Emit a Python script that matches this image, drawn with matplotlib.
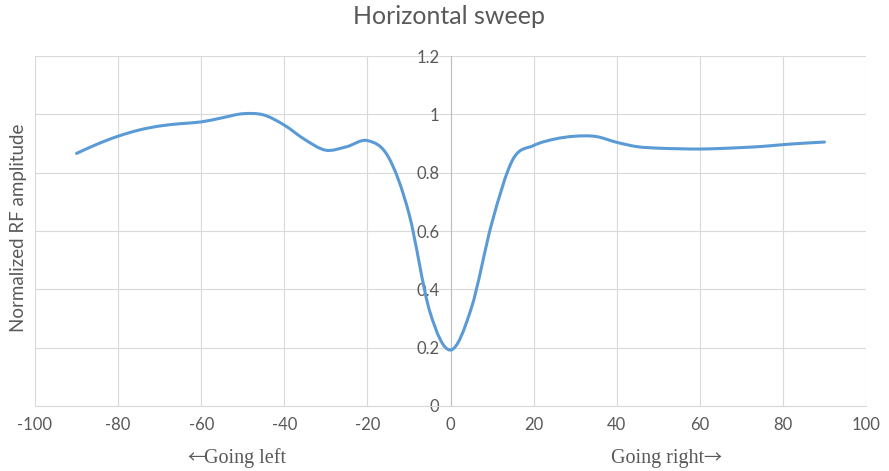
import matplotlib
matplotlib.use('Agg')
import matplotlib.pyplot as plt
from matplotlib.path import Path
from matplotlib.patches import PathPatch
from matplotlib.ticker import FuncFormatter

plt.rcParams['axes.unicode_minus'] = False

# angle (deg) and normalized RF amplitude
angles = [-90, -85, -80, -75, -70, -65, -60, -55, -50, -45, -40, -35, -30,
          -25, -20, -15, -10, -5, 0, 5, 10, 15, 20, 25, 30, 35, 40, 45,
          50, 55, 60, 65, 70, 75, 80, 85, 90]
amplitude = [0.866, 0.898, 0.925, 0.946, 0.960, 0.968, 0.974, 0.988, 1.002,
             0.998, 0.963, 0.913, 0.877, 0.889, 0.910, 0.855, 0.660, 0.325,
             0.192, 0.335, 0.630, 0.845, 0.893, 0.915, 0.925, 0.924, 0.904,
             0.889, 0.884, 0.882, 0.881, 0.883, 0.886, 0.890, 0.896, 0.901,
             0.905]
x_ticks = [-100, -80, -60, -40, -20, 0, 20, 40, 60, 80, 100]
y_ticks = [0, 0.2, 0.4, 0.6, 0.8, 1.0, 1.2]

LINE = '#5B9BD5'
GRID = '#D9D9D9'
TEXT = '#595959'


def smooth_path(xs, ys):
    """Excel-style smoothed line: cubic bezier through every point"""
    n = len(xs)
    verts = [(xs[0], ys[0])]
    codes = [Path.MOVETO]
    for i in range(n - 1):
        i0 = max(i - 1, 0)
        i3 = min(i + 2, n - 1)
        c1 = (xs[i] + (xs[i + 1] - xs[i0]) / 6, ys[i] + (ys[i + 1] - ys[i0]) / 6)
        c2 = (xs[i + 1] - (xs[i3] - xs[i]) / 6, ys[i + 1] - (ys[i3] - ys[i]) / 6)
        verts += [c1, c2, (xs[i + 1], ys[i + 1])]
        codes += [Path.CURVE4] * 3
    return Path(verts, codes)


fig = plt.figure(figsize=(8.89, 4.71), dpi=100)
ax = fig.add_axes([35 / 889, 1 - 406 / 471, 831 / 889, 350 / 471])

ax.add_patch(PathPatch(smooth_path(angles, amplitude), fill=False,
                       edgecolor=LINE, linewidth=2.2, capstyle='round', zorder=3))

ax.set_xlim(-100, 100)
ax.set_ylim(0, 1.2)
ax.set_xticks(x_ticks)
ax.set_yticks(y_ticks)
ax.yaxis.set_major_formatter(FuncFormatter(lambda v, p: f'{v:g}'))

ax.grid(True, color=GRID, linewidth=0.8, zorder=0)
ax.set_axisbelow(True)
for side in ['top', 'right']:
    ax.spines[side].set_visible(False)
ax.spines['left'].set_position(('data', 0))
ax.spines['left'].set_color('#BFBFBF')
ax.spines['bottom'].set_color(GRID)
ax.spines['left'].set_linewidth(0.8)
ax.spines['bottom'].set_linewidth(0.8)

ax.tick_params(axis='both', length=0, labelcolor=TEXT, labelsize=12)
ax.tick_params(axis='y', pad=8)
ax.tick_params(axis='x', pad=8)
for lab in ax.get_xticklabels() + ax.get_yticklabels():
    lab.set_fontfamily('Lato')

fig.text(0.505, 0.964, 'Horizontal sweep', ha='center', va='center',
         fontsize=18, color=TEXT, family='Lato')
fig.text(19 / 889, 1 - 228 / 471, 'Normalized RF amplitude', rotation=90,
         ha='center', va='center', fontsize=13.5, color=TEXT, family='Lato')

# direction hints under the x axis
serif = ['Liberation Serif', 'DejaVu Serif']
arrow_font = ['Noto Sans CJK SC', 'DejaVu Sans']
yb = 1 - 458 / 471
fig.text(204 / 889, yb, 'Going left', ha='left', va='center',
         fontsize=14.5, color=TEXT, family=serif)
fig.text(205 / 889, yb, '\u2190', ha='right', va='center',
         fontsize=13, color=TEXT, family=arrow_font)
fig.text(704 / 889, yb, 'Going right', ha='right', va='center',
         fontsize=14.5, color=TEXT, family=serif)
fig.text(703 / 889, yb, '\u2192', ha='left', va='center',
         fontsize=13, color=TEXT, family=arrow_font)

fig.savefig('out.png', dpi=100)
plt.close(fig)
